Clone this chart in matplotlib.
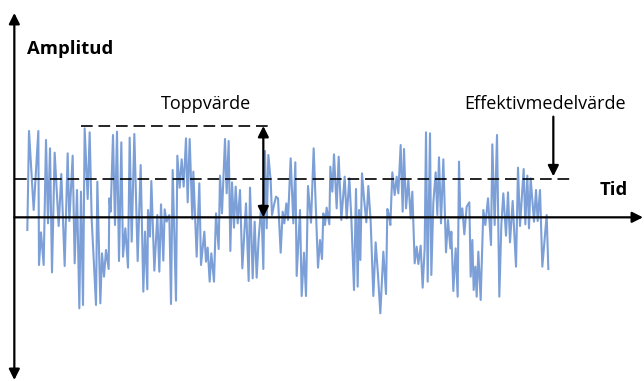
import matplotlib
matplotlib.use("Agg")
import matplotlib.pyplot as plt

# signal (time in arbitrary steps, amplitude in arbitrary units)
tid = [22, 27, 41, 55, 57, 63, 71, 78, 84, 90, 96, 104, 116, 124, 134, 143, 148, 158, 164, 171,
       178, 183, 189, 194, 203, 209, 215, 228, 232, 241, 246, 252, 258, 266, 268, 272, 279, 285, 291, 297,
       304, 309, 316, 324, 329, 335, 343, 353, 362, 370, 375, 382, 384, 390, 394,
       403, 412, 418, 423, 430, 434, 440, 445, 448, 453, 458, 468, 472, 479, 485, 491, 498, 503, 509,
       517, 520, 530, 538, 543, 553, 558, 563, 569, 574, 582, 588, 596, 600, 606, 615, 620, 626, 631,
       636, 642, 647, 653, 660, 667, 678, 686, 690, 698, 704, 710, 716, 724, 730, 735, 740, 745, 752,
       756, 762, 768, 774, 782, 788,
       793, 799, 804, 812, 820, 826, 830, 840, 845, 852, 858, 864, 873, 881, 894, 900, 906, 910, 915,
       920, 928, 931, 937, 942, 950, 956, 964, 974, 980, 988, 994, 1002, 1008, 1013, 1017, 1021, 1026,
       1032, 1039, 1045, 1052, 1060, 1067, 1074, 1081, 1090, 1098, 1102, 1107, 1111, 1117, 1124, 1130,
       1135, 1142, 1148, 1152, 1158, 1165, 1172, 1177, 1184,
       1190, 1195, 1202, 1208, 1214, 1218, 1223, 1230, 1234, 1240, 1247, 1252, 1257, 1263, 1270, 1278,
       1284, 1291, 1294, 1300, 1307, 1313, 1317, 1321, 1327, 1333, 1340, 1348, 1352, 1357, 1361, 1366,
       1370, 1375, 1382, 1390, 1396, 1404, 1413, 1417, 1424, 1431, 1438, 1444, 1450, 1458, 1464, 1470,
       1478, 1488, 1494, 1500, 1511, 1516, 1522, 1527, 1532, 1542, 1548, 1553, 1560, 1567, 1580, 1585]
amplitud = [-38, 259, 22, 259, -143, -45, -143, 232, -18, 207, -165, 194, -26, 130, -146, 192, -11, 185, -138, 82,
            -273, 77, -263, 267, 55, 255, -5, -263, 107, -258, -108, -178, -98, -155, 57, 17, 247, -23, 257, -131,
            225, -118, -33, -151, 239, -73, 250, -131, 157, -223, -43, -216, 22, -58, 109,
            -160, 7, -163, 39, -130, 24, -13, 2, 7, -260, 142, -250, 185, 89, 174, 92, 237, 45, 235,
            -5, 137, -118, 102, -143, -43, -133, -91, -193, -108, -193, 12, -95, 125, 12, 235, 72, 229, -101,
            105, -31, 92, -18, 82, -153, 42, -191, 89, -183, -13, -181, -63, 37, -155, 199, -33, 187, 110,
            7, 37, 62, 57, -106, 17,
            -18, 42, -8, 177, -18, 165, -176, 22, -236, -106, -236, 94, -16, 207, -151, -68, -125, 12, -23,
            29, -21, 152, 77, 189, 27, 182, -8, 122, -3, 117, -3, -218, 85, -208, 22, -128, 132,
            57, -15, 94, -13, -236, -75, -173, -288, -103, -230, 25, 7, -23, 135, 67, 122,
            72, 217, 17, 205, 27, 112, -3, 77, -138,
            -88, -140, -85, -211, -93, 255, -193, 252, -173, 44, 135, 7, 180, -18, 174, -105,
            -8, -93, -43, -221, -93, -238, 167, -3, 27, -51, 32, 45, -178, -68, -218, -148,
            -238, -103, -248, 22, -23, 57, -83, 219, -23, 247, -238, -23, 72, -55, 75, -75,
            49, -148, 149, -26, 145, -21, 125, -33, 117, -13, 82, -11, 82, -148, 7, -155]

toppvarde = 274
effektivvarde = 115

plt.rcParams['font.family'] = ['Open Sans', 'DejaVu Sans']

fig = plt.figure(figsize=(6.44, 3.81), dpi=100)
ax = fig.add_axes([0, 0, 1, 1])
ax.set_xlim(-60, 1872)
ax.set_ylim(-491, 652)
ax.axis('off')

# signal
ax.plot(tid, amplitud, color='#7b9fd6', lw=1.5, zorder=2)

# axes with arrows
ax.annotate('', xy=(1869, 0), xytext=(-17, 0),
            arrowprops=dict(arrowstyle='-|>', color='black', lw=1.6,
                            mutation_scale=16, shrinkA=0, shrinkB=0), zorder=3)
ax.annotate('', xy=(-17, 613), xytext=(-17, -488),
            arrowprops=dict(arrowstyle='<|-|>', color='black', lw=1.6,
                            mutation_scale=16, shrinkA=0, shrinkB=0), zorder=3)

# peak and rms dashed lines
ax.plot([182, 756], [toppvarde, toppvarde], color='black', lw=1.2,
        dashes=(7, 3.5), zorder=3)
ax.plot([-14, 1665], [effektivvarde, effektivvarde], color='black', lw=1.2,
        dashes=(7, 3.5), zorder=3)

# Toppvärde double arrow
ax.annotate('', xy=(730, toppvarde), xytext=(730, 0),
            arrowprops=dict(arrowstyle='<|-|>', color='black', lw=1.6,
                            mutation_scale=16, shrinkA=0, shrinkB=0), zorder=4)
# Effektivmedelvärde arrow
ax.annotate('', xy=(1600, effektivvarde + 8), xytext=(1600, 302),
            arrowprops=dict(arrowstyle='-|>', color='black', lw=1.6,
                            mutation_scale=16, shrinkA=0, shrinkB=0), zorder=4)

W, H = 644, 381
fig.text(27 / W, 1 - 49 / H, 'Amplitud', fontsize=13.3, fontweight='bold',
         ha='left', va='center')
fig.text(600 / W, 1 - 190 / H, 'Tid', fontsize=13.3, fontweight='bold',
         ha='left', va='center')
fig.text(206 / W, 1 - 104 / H, 'Toppvärde', fontsize=13,
         ha='center', va='center')
fig.text(545 / W, 1 - 104 / H, 'Effektivmedelvärde', fontsize=13,
         ha='center', va='center')

fig.savefig('out.png', dpi=100)
